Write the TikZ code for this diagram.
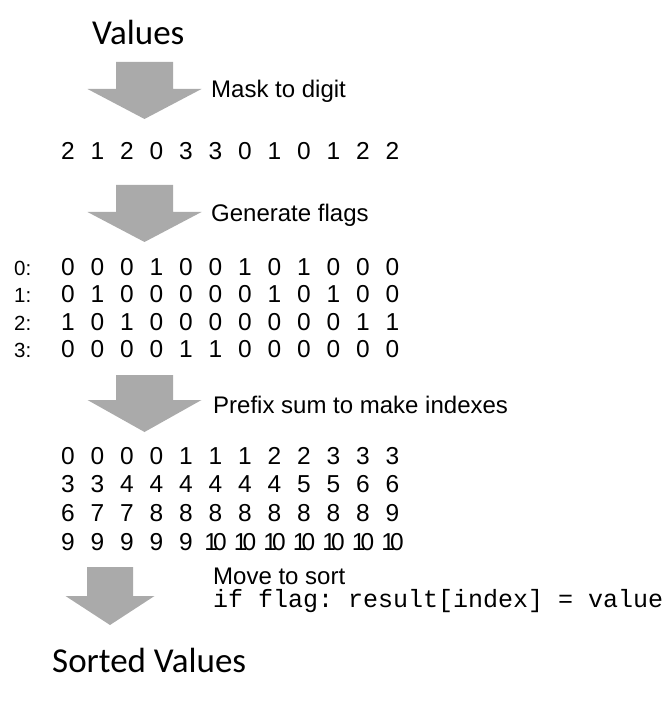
\documentclass[tikz,border=0pt]{standalone}
\usepackage{fontspec}
\setmainfont{Liberation Sans}
\setmonofont{Liberation Mono}
\newfontfamily\titlefont{Carlito}
\definecolor{arrowgray}{HTML}{AAAAAA}
\tikzset{
  title/.style={font=\titlefont\fontsize{35}{40}\selectfont, anchor=base west, inner sep=0pt},
  caption/.style={font=\fontsize{24}{28}\selectfont, anchor=base west, inner sep=0pt},
  digit/.style={font=\fontsize{24.5}{28}\selectfont, anchor=base, inner sep=0pt},
  rowlabel/.style={font=\fontsize{20.5}{22}\selectfont, anchor=base west, inner sep=0pt},
  code/.style={font=\ttfamily\fontsize{25}{30}\selectfont, anchor=base west, inner sep=0pt},
  blockarrow/.style={fill=arrowgray}
}
% x, top, neck, tip, half shaft, half head
\newcommand{\flowarrow}[6]{%
  \fill [blockarrow] (#1-#5,#2) -- (#1+#5,#2) -- (#1+#5,#3) -- (#1+#6,#3)
    -- (#1,#4) -- (#1-#6,#3) -- (#1-#5,#3) -- cycle;}
\newcommand{\ten}{1\kern-0.2em 0}
\begin{document}
\begin{tikzpicture}[x=1pt,y=-1pt]
\useasboundingbox (0,0) rectangle (666,708);
\node [title] (values) at (92,45) {Values};
\flowarrow{144.5}{62}{89}{119}{28.5}{57}
\node [caption] (mask) at (211,98) {Mask to digit};
\foreach \v [count=\i from 0] in {2,1,2,0,3,3,0,1,0,1,2,2}
  \node [digit] (val\i) at (68+29.5*\i,159.3) {\v};
\flowarrow{144.5}{185}{212}{242}{28.5}{57}
\node [caption] (genflags) at (211,222) {Generate flags};
% flags per digit
\foreach \row [count=\r from 0] in {{0,0,0,1,0,0,1,0,1,0,0,0},{0,1,0,0,0,0,0,1,0,1,0,0},
    {1,0,1,0,0,0,0,0,0,0,1,1},{0,0,0,0,1,1,0,0,0,0,0,0}} {
  \pgfmathsetmacro{\rowy}{275+27.5*\r}
  \node [rowlabel] (lab\r) at (14,\rowy) {\r:};
  \foreach \f [count=\i from 0] in \row
    \node [digit] (flag\r-\i) at (68+29.5*\i,\rowy) {\f};
}
\flowarrow{144.5}{375}{400}{432}{28.5}{57}
\node [caption] (prefix) at (213,413) {Prefix sum to make indexes};
% indexes
\foreach \row [count=\r from 0] in {{0,0,0,0,1,1,1,2,2,3,3,3},{3,3,4,4,4,4,4,4,5,5,6,6},
    {6,7,7,8,8,8,8,8,8,8,8,9},{9,9,9,9,9,\ten,\ten,\ten,\ten,\ten,\ten,\ten}} {
  \pgfmathsetmacro{\rowy}{464+28.7*\r}
  \foreach \p [count=\i from 0] in \row
    \node [digit] (idx\r-\i) at (68+29.5*\i,\rowy) {\p};
}
\flowarrow{110}{567}{596}{625}{23}{44.5}
\node [caption] (move) at (213,584) {Move to sort};
\node [code] (movecode) at (213,607) {if flag: result[index] = value};
\node [title] (sorted) at (52,672) {Sorted Values};
\end{tikzpicture}
\end{document}
